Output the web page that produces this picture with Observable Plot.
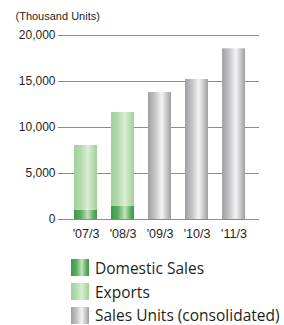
<!DOCTYPE html>
<html>
<head>
<meta charset="utf-8">
<script src="https://cdn.jsdelivr.net/npm/d3@7"></script>
<script src="https://cdn.jsdelivr.net/npm/@observablehq/plot@0.6"></script>
<style>
  body { margin: 0; background: #fff; }
  #chart svg { display: block; }
  .legend { margin: 6px 0 0 71px; font-family: "Open Sans", "Noto Sans", sans-serif; font-size: 15.5px; color: #231f20; }
  .legend .row { display: flex; align-items: center; height: 23.7px; white-space: nowrap; }
  .legend .sw { width: 18px; height: 17px; margin-right: 6px; flex: none; }
</style>
</head>
<body>
<div id="chart"></div>
<div class="legend" id="legend"></div>
<script>
const categories = ["'07/3", "'08/3", "'09/3", "'10/3", "'11/3"];
const domesticSales = [1000, 1450, null, null, null];
const exportsSales = [7050, 10180, null, null, null];
const consolidated = [null, null, 13800, 15220, 18550];
const seriesNames = ["Domestic Sales", "Exports", "Sales Units (consolidated)"];
const yTicks = [0, 5000, 10000, 15000, 20000];
const unitLabel = "(Thousand Units)";

const gradients = {
  "Domestic Sales": ["#3a9947", "#5aae5f", "#c4e2bf", "#5aae5f", "#3a9947"],
  "Exports": ["#9fd09a", "#b4dbae", "#dbeed7", "#b4dbae", "#9fd09a"],
  "Sales Units (consolidated)": ["#9fa0a3", "#c2c3c5", "#f4f4f4", "#bebfc1", "#9d9ea1"]
};
const gradIds = {"Domestic Sales": "gDom", "Exports": "gExp", "Sales Units (consolidated)": "gCon"};
const stopsAt = [0, 0.3, 0.6, 0.85, 1];

const rows = [];
categories.forEach((c, i) => {
  if (domesticSales[i] != null) rows.push({cat: c, series: seriesNames[0], value: domesticSales[i]});
  if (exportsSales[i] != null) rows.push({cat: c, series: seriesNames[1], value: exportsSales[i]});
  if (consolidated[i] != null) rows.push({cat: c, series: seriesNames[2], value: consolidated[i]});
});

const chart = Plot.plot({
  width: 284,
  height: 250,
  marginTop: 35,
  marginBottom: 31,
  marginLeft: 58,
  marginRight: 25,
  style: {fontFamily: "'Liberation Sans', Arial, sans-serif", fontSize: "12px", color: "#231f20", background: "#fff"},
  x: {domain: categories, padding: 0.38, align: 0.54, label: null},
  y: {domain: [0, 20000], label: null},
  color: {domain: seriesNames, range: seriesNames.map(s => `url(#${gradIds[s]})`)},
  marks: [
    Plot.ruleY(yTicks, {stroke: "#8c8c8c", strokeWidth: 1}),
    Plot.barY(rows, Plot.stackY({x: "cat", y: "value", fill: "series", order: seriesNames})),
    Plot.axisY(yTicks, {tickSize: 0, tickPadding: 3, tickFormat: d3.format(","), fontSize: 12, label: null}),
    Plot.axisX({tickSize: 0, tickPadding: 10, fontSize: 12.5, label: null}),
    Plot.text([unitLabel], {frameAnchor: "top-left", textAnchor: "start", lineAnchor: "middle", dx: -43, dy: -19, fontSize: 11})
  ]
});

const defs = d3.select(chart).insert("defs", ":first-child");
for (const s of seriesNames) {
  const g = defs.append("linearGradient").attr("id", gradIds[s]).attr("x1", 0).attr("x2", 1).attr("y1", 0).attr("y2", 0);
  gradients[s].forEach((col, k) => g.append("stop").attr("offset", stopsAt[k]).attr("stop-color", col));
}
document.getElementById("chart").appendChild(chart);

const leg = document.getElementById("legend");
for (const s of seriesNames) {
  const stops = gradients[s].map((c, k) => `${c} ${stopsAt[k] * 100}%`).join(", ");
  const row = document.createElement("div");
  row.className = "row";
  row.innerHTML = `<div class="sw" style="background: linear-gradient(to right, ${stops})"></div><span>${s}</span>`;
  leg.appendChild(row);
}
</script>
</body>
</html>
